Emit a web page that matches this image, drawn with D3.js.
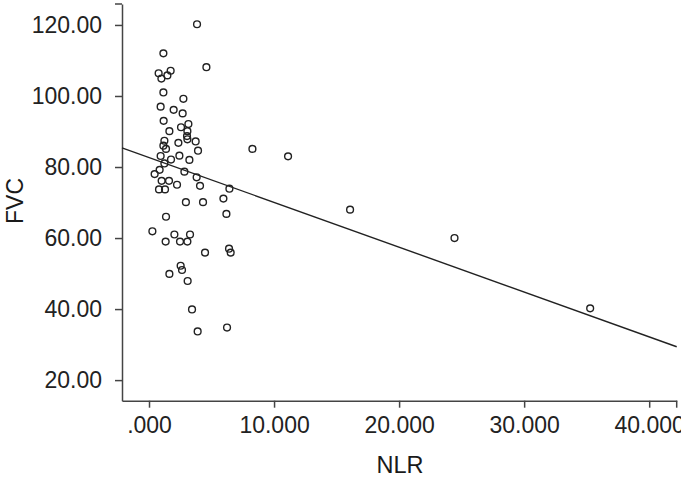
<!DOCTYPE html>
<html>
<head>
<meta charset="utf-8">
<script src="https://cdn.jsdelivr.net/npm/d3@7"></script>
<style>
    body { margin: 0; background: #fff; }
    text { font-family: "Liberation Sans", Arial, sans-serif; fill: #222; }
</style>
</head>
<body>
<script>
// NLR / FVC pairs
const nlr = [3.84, 1.15, 4.59, 0.77, 0.99, 1.47, 1.73, 1.15, 2.75, 0.93,
             1.97, 2.69, 1.17, 3.15, 2.56, 1.63, 3.07, 3.04, 3.07, 1.23,
             2.35, 3.73, 3.92, 1.15, 1.36, 0.93, 2.43, 1.76, 3.23, 1.23,
             0.85, 0.45, 2.83, 1.01, 1.60, 2.24, 3.81, 4.08, 6.43, 0.80,
             1.28, 2.95, 4.32, 5.95, 6.19, 1.36, 0.27, 2.03, 3.28, 1.33,
             2.48, 3.07, 4.48, 6.40, 6.53, 2.53, 2.64, 1.63, 3.09, 3.44,
             3.89, 6.24, 8.27, 11.12, 16.08, 24.43, 35.28];
const fvc = [120.2, 112.0, 108.1, 106.4, 104.9, 105.8, 107.1, 101.0, 99.2, 97.0,
             96.1, 95.1, 93.0, 92.1, 91.2, 90.1, 90.1, 88.7, 87.8, 87.4,
             86.8, 87.2, 84.6, 86.0, 85.1, 83.1, 83.2, 82.1, 82.0, 81.0,
             79.2, 78.0, 78.7, 76.1, 76.1, 75.0, 77.1, 74.7, 73.9, 73.7,
             73.7, 70.1, 70.1, 71.1, 66.8, 66.0, 61.9, 61.0, 61.0, 59.0,
             59.0, 59.0, 55.9, 57.0, 55.9, 52.2, 51.0, 49.9, 47.9, 39.9,
             33.7, 34.8, 85.1, 83.0, 68.0, 60.0, 40.2];

// fit line end points (NLR, FVC)
const fitX = [-2.16, 42.2];
const fitY = [85.4, 29.4];

const xTicks = [0, 10, 20, 30, 40];
const xTickLabels = [".000", "10.000", "20.000", "30.000", "40.000"];
const yTicks = [20, 40, 60, 80, 100, 120];
const yTickLabels = ["20.00", "40.00", "60.00", "80.00", "100.00", "120.00"];

const width = 681, height = 484;
const svg = d3.select("body").append("svg")
    .attr("width", width)
    .attr("height", height);

const x = d3.scaleLinear().domain([-2.16, 42.2]).range([122, 676.7]);
const y = d3.scaleLinear().domain([14.2, 125.9]).range([400.7, 4]);

const axisColor = "#444";

let xAxis = svg.append("g")
    .attr("transform", `translate(0, ${y.range()[0]})`)
    .call(d3.axisBottom(x)
        .tickValues(xTicks)
        .tickFormat((d, i) => xTickLabels[i])
        .tickSize(7)
        .tickSizeOuter(0)
        .tickPadding(9));
// closing tick at right end
xAxis.append("line")
    .attr("x1", x.range()[1]).attr("x2", x.range()[1])
    .attr("y1", 0).attr("y2", 7);

let yAxis = svg.append("g")
    .attr("transform", `translate(${x.range()[0]}, 0)`)
    .call(d3.axisLeft(y)
        .tickValues(yTicks)
        .tickFormat((d, i) => yTickLabels[i])
        .tickSize(7)
        .tickSizeOuter(0)
        .tickPadding(13));
yAxis.append("line")
    .attr("x1", -7).attr("x2", 0)
    .attr("y1", y.range()[1]).attr("y2", y.range()[1]);

svg.selectAll(".domain, .tick line").attr("stroke", axisColor).attr("stroke-width", 1.5);
xAxis.select("line:last-child").attr("stroke", axisColor).attr("stroke-width", 1.5);
yAxis.select("line:last-child").attr("stroke", axisColor).attr("stroke-width", 1.5);
svg.selectAll(".tick text")
    .attr("fill", "#1a1a1a")
    .style("font-family", "'Liberation Sans', Arial, sans-serif")
    .style("font-size", "23px");

// regression line
svg.append("line")
    .attr("x1", x(fitX[0])).attr("y1", y(fitY[0]))
    .attr("x2", x(fitX[1])).attr("y2", y(fitY[1]))
    .attr("stroke", "#222")
    .attr("stroke-width", 1.4);

// points
svg.selectAll(".dot")
    .data(nlr.map((d, i) => ({ nlr: d, fvc: fvc[i] })))
    .enter()
    .append("circle")
    .attr("class", "dot")
    .attr("cx", d => x(d.nlr))
    .attr("cy", d => y(d.fvc))
    .attr("r", 3.4)
    .attr("fill", "none")
    .attr("stroke", "#222")
    .attr("stroke-width", 1.4);

// axis titles
svg.append("text")
    .attr("x", 400)
    .attr("y", 473)
    .attr("text-anchor", "middle")
    .style("font-size", "23.5px")
    .style("fill", "#1a1a1a")
    .text("NLR");
svg.append("text")
    .attr("transform", "translate(23, 201) rotate(-90)")
    .attr("text-anchor", "middle")
    .style("font-size", "23px")
    .style("fill", "#1a1a1a")
    .text("FVC");
</script>
</body>
</html>
